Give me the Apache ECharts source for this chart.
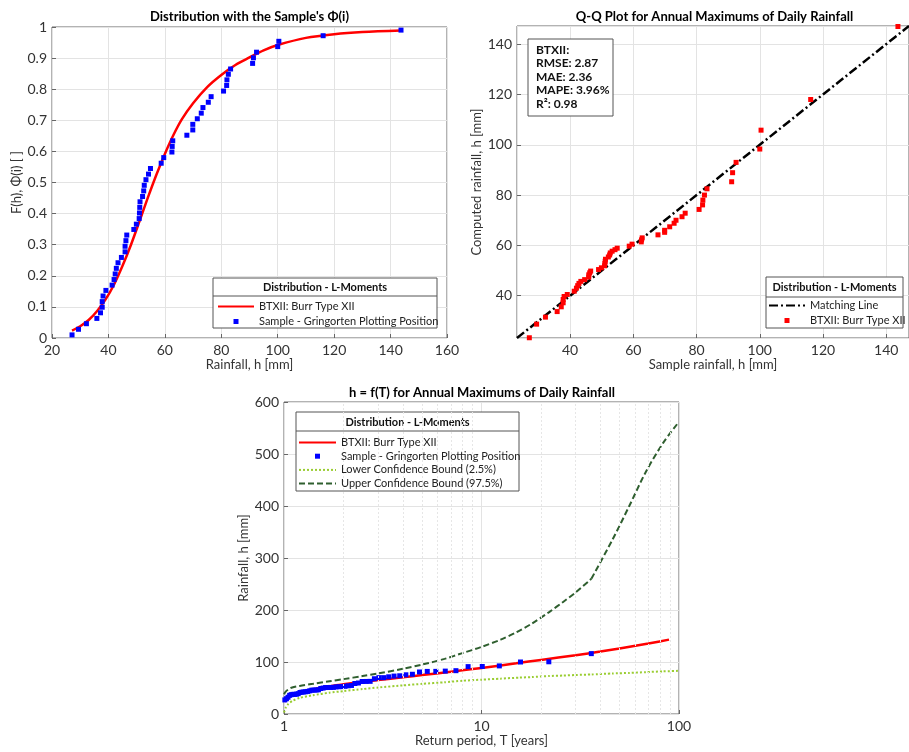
<!DOCTYPE html>
<html><head><meta charset="utf-8">
<script src="https://cdn.jsdelivr.net/npm/echarts@6/dist/echarts.min.js"></script>
<style>html,body{margin:0;padding:0;background:#fff}#c{width:909px;height:752px}</style>
</head><body><div id="c"></div>
<script>
// ---- data ----
const sampleH = [27.1, 29.4, 32.2, 35.9, 37.2, 37.8, 37.8, 38.1, 39.1, 41.3, 42.0, 42.4, 42.8, 43.4, 44.6, 45.9, 45.9, 46.2, 46.5, 49.0, 49.9, 50.9, 51.0, 51.1, 51.2, 52.1, 52.5, 52.7, 53.3, 54.2, 54.9, 58.7, 59.6, 62.5, 62.6, 62.8, 67.8, 69.9, 69.9, 71.5, 72.9, 73.5, 75.4, 76.4, 80.8, 81.9, 82.0, 82.5, 83.3, 91.1, 91.4, 92.5, 100.0, 100.4, 116.1, 143.7];
const plotPosF = [0.010, 0.028, 0.046, 0.063, 0.081, 0.099, 0.117, 0.135, 0.153, 0.170, 0.188, 0.206, 0.224, 0.242, 0.259, 0.277, 0.295, 0.313, 0.331, 0.349, 0.366, 0.384, 0.402, 0.420, 0.438, 0.455, 0.473, 0.491, 0.509, 0.527, 0.545, 0.562, 0.580, 0.598, 0.616, 0.634, 0.652, 0.669, 0.687, 0.705, 0.723, 0.741, 0.758, 0.776, 0.794, 0.812, 0.830, 0.848, 0.865, 0.883, 0.901, 0.919, 0.937, 0.954, 0.972, 0.990];
const returnT = [1.010, 1.029, 1.048, 1.068, 1.088, 1.110, 1.132, 1.156, 1.180, 1.205, 1.232, 1.259, 1.288, 1.319, 1.350, 1.384, 1.419, 1.455, 1.494, 1.535, 1.578, 1.624, 1.672, 1.724, 1.778, 1.836, 1.899, 1.965, 2.036, 2.113, 2.196, 2.285, 2.382, 2.488, 2.603, 2.730, 2.869, 3.024, 3.196, 3.389, 3.607, 3.854, 4.139, 4.468, 4.855, 5.314, 5.870, 6.556, 7.423, 8.555, 10.09, 12.31, 15.76, 21.92, 35.97, 100.2];
const computedH = [23.3, 28.7, 31.5, 33.7, 35.6, 37.2, 38.5, 39.7, 40.5, 41.8, 43.0, 44.0, 44.9, 45.7, 46.4, 47.4, 48.3, 49.1, 49.8, 50.4, 51.1, 51.9, 52.8, 53.7, 54.5, 55.4, 56.2, 57.0, 57.7, 58.3, 58.9, 59.7, 60.5, 61.4, 62.2, 63.0, 64.2, 65.2, 66.0, 67.4, 68.8, 70.0, 71.4, 72.8, 74.3, 76.1, 78.0, 80.0, 82.5, 85.3, 88.9, 93.0, 98.3, 105.8, 118.0, 147.0];

const cdfH = [27.1, 30, 33, 36, 39, 42, 45, 48, 51, 54, 57, 60, 63, 66, 70, 75, 80, 85, 90, 95, 100, 110, 120, 130, 143.7];
const cdfF = [0.024, 0.038, 0.058, 0.087, 0.124, 0.172, 0.232, 0.300, 0.375, 0.452, 0.525, 0.592, 0.652, 0.703, 0.755, 0.807, 0.846, 0.878, 0.902, 0.925, 0.942, 0.965, 0.977, 0.984, 0.989];

const quantT = [1.01, 1.03, 1.05, 1.1, 1.2, 1.3, 1.4, 1.6, 1.8, 2, 2.5, 3, 4, 5, 7, 10, 15, 20, 30, 40, 50, 70, 89];
const quantH = [23.4, 28.5, 31.7, 36.8, 41.6, 44.8, 47.6, 51.5, 54.6, 57.3, 61.8, 65.2, 70.5, 74.8, 81.4, 88.5, 97.5, 104, 113, 120, 126, 135.5, 143];

const lowerT = [1.0, 1.02, 1.05, 1.1, 1.2, 1.4, 1.7, 2, 2.5, 3, 4, 5, 6.5, 8, 10, 12.5, 15.6, 18, 22, 26, 30, 36, 46, 56, 68, 83, 100];
const lowerH = [3, 12, 19, 25, 31, 36, 41, 44, 48, 51, 55, 58, 61, 64, 66, 68, 70, 71, 73, 74, 75, 76, 78, 79, 80.5, 82, 83];
const upperT1 = [1.0, 1.02, 1.05, 1.1, 1.2, 1.4, 1.7, 2, 2.5, 3, 4, 5, 6.5, 8, 10, 12.5, 15, 18, 22, 26, 30, 36];
const upperH1 = [38, 43, 47, 51, 54, 58, 63, 67, 73, 78, 87, 95, 106, 117, 129, 143, 157, 174, 196, 216, 234, 260];
const upperT2 = [36, 46, 56, 68, 83, 100];
const upperH2 = [260, 335, 400, 466, 521, 562];

const matchLine = [23.2, 147.2];
const minorT = [2, 3, 4, 5, 6, 7, 8, 9, 20, 30, 40, 50, 60, 70, 80, 90];
const statLines = ['BTXII:', 'RMSE: 2.87', 'MAE: 2.36', 'MAPE: 3.96%', 'R²: 0.98'];
const chartTitles = ["Distribution with the Sample's Φ(i)", 'Q-Q Plot for Annual Maximums of Daily Rainfall', 'h = f(T) for Annual Maximums of Daily Rainfall'];
const legendTitle = 'Distribution - L-Moments';
const legendLabels = {
  cdf: 'BTXII: Burr Type XII', s1: 'Sample - Gringorten Plotting Position',
  match: 'Matching Line', qq: 'BTXII: Burr Type XII',
  quant: 'BTXII: Burr Type XII', s3: 'Sample - Gringorten Plotting Position',
  lower: 'Lower Confidence Bound (2.5%)', upper: 'Upper Confidence Bound (97.5%)'
};

// ---- chart ----
const zip = (a, b) => a.map((v, i) => [v, b[i]]);
const FONT = 'Lato';
const BOX = '#666';
const RED = '#ff0000', BLUE = '#0000ff';

function axis(gridIndex, o) {
  return Object.assign({
    type: 'value', gridIndex,
    axisLine: {show: false},
    axisTick: {show: true, inside: true, length: 4, lineStyle: {color: BOX}},
    axisLabel: {color: '#333', fontSize: 14, fontFamily: FONT, margin: 5},
    splitLine: {show: true, lineStyle: {color: '#e3e3e3', width: 1}},
    nameLocation: 'middle',
    nameTextStyle: {color: '#333', fontSize: 13, fontFamily: FONT}
  }, o);
}
const gridBase = {show: true, borderColor: BOX, borderWidth: 1, backgroundColor: '#fff', containLabel: false};

const legendText = {fontSize: 11, fontFamily: FONT, color: '#222'};
// small centred square icon for marker-only legend entries
const sq = (w, h, s) => 'path://M0,0M' + w + ',' + h + 'M' + ((w - s) / 2) + ',' + ((h - s) / 2) + 'h' + s + 'v' + s + 'h-' + s + 'Z';
function legend(left, top, gap, w, items) {
  return {left, top, orient: 'vertical', padding: 0, itemWidth: w, itemHeight: 6, itemGap: gap,
    selectedMode: false, textStyle: legendText, formatter: n => legendLabels[n], data: items, z: 6};
}
function legendBox(x, y, w, h, sepY) {
  return [
    {type: 'rect', z: 4, shape: {x, y, width: w, height: h}, style: {fill: '#fff', stroke: '#555', lineWidth: 1}},
    {type: 'line', z: 5, shape: {x1: x, y1: sepY, x2: x + w, y2: sepY}, style: {stroke: '#555', lineWidth: 1}},
    {type: 'text', z: 5, x: x + w / 2, y: (y + sepY) / 2 + 0.5, style: {text: legendTitle, align: 'center', verticalAlign: 'middle', font: 'bold 11px ' + FONT, fill: '#111'}}
  ];
}
function titleEl(text, x, y) {
  return {type: 'text', z: 5, x, y, style: {text, align: 'center', verticalAlign: 'middle', font: 'bold 13px ' + FONT, fill: '#000'}};
}
const lineSeries = (name, xi, data, color, width, type, extra) => Object.assign({
  name, type: 'line', xAxisIndex: xi, yAxisIndex: xi, data, showSymbol: false, symbol: 'none',
  lineStyle: {color, width, type}, itemStyle: {color}, z: 2}, extra || {});
const scatterSeries = (name, xi, data, color) => ({
  name, type: 'scatter', xAxisIndex: xi, yAxisIndex: xi, data, symbol: 'rect', symbolSize: 5,
  itemStyle: {color, opacity: 1}, z: 3, clip: true});

const option = {
  animation: false,
  backgroundColor: '#fff',
  grid: [
    Object.assign({left: 52, top: 27, width: 395, height: 311}, gridBase),
    Object.assign({left: 517, top: 26, width: 395, height: 312}, gridBase),
    Object.assign({left: 284, top: 402, width: 395, height: 312}, gridBase)
  ],
  xAxis: [
    axis(0, {min: 20, max: 160, interval: 20, name: 'Rainfall, h [mm]', nameGap: 18}),
    axis(1, {min: matchLine[0], max: matchLine[1], minInterval: 20, maxInterval: 20, name: 'Sample rainfall, h [mm]', nameGap: 18,
      axisLabel: {color: '#333', fontSize: 14, fontFamily: FONT, margin: 5, showMinLabel: false, showMaxLabel: false}}),
    axis(2, {type: 'log', logBase: 10, min: 1, max: 100, name: 'Return period, T [years]', nameGap: 18})
  ],
  yAxis: [
    axis(0, {min: 0, max: 1, interval: 0.1, name: 'F(h), Φ(i) [ ]', nameGap: 24}),
    axis(1, {min: matchLine[0], max: matchLine[1], minInterval: 20, maxInterval: 20, name: 'Computed rainfall, h [mm]', nameGap: 25,
      axisLabel: {color: '#333', fontSize: 14, fontFamily: FONT, margin: 5, showMinLabel: false, showMaxLabel: false}}),
    axis(2, {min: 0, max: 600, interval: 100, name: 'Rainfall, h [mm]', nameGap: 24})
  ],
  legend: [
    legend(217, 301, 4, 36, [{name: 'cdf', itemStyle: {opacity: 0}}, {name: 's1', icon: sq(36, 6, 5)}]),
    legend(768, 300, 4, 36, [{name: 'match', itemStyle: {opacity: 0}}, {name: 'qq', icon: sq(36, 6, 5)}]),
    legend(298, 437, 2.7, 37, [{name: 'quant', itemStyle: {opacity: 0}}, {name: 's3', icon: sq(37, 6, 5)},
      {name: 'lower', itemStyle: {opacity: 0}}, {name: 'upper', itemStyle: {opacity: 0}}])
  ],
  graphic: {elements: [
    titleEl(chartTitles[0], 249.5, 17),
    titleEl(chartTitles[1], 714.5, 17),
    titleEl(chartTitles[2], 482, 393),
    ...legendBox(213, 278, 224, 50, 296),
    ...legendBox(766, 277, 137, 51, 297),
    ...legendBox(296, 412, 223, 79, 431),
    {type: 'rect', z: 4, shape: {x: 528, y: 39, width: 85, height: 77}, style: {fill: '#fff', stroke: '#555', lineWidth: 1}},
    {type: 'text', z: 5, x: 536, y: 43, style: {text: statLines.join('\n'), font: 'bold 12px ' + FONT, lineHeight: 13.5, fill: '#111'}}
  ]},
  series: [
    lineSeries('cdf', 0, zip(cdfH, cdfF), RED, 2.5, 'solid', {smooth: 0.3}),
    scatterSeries('s1', 0, zip(sampleH, plotPosF), BLUE),
    lineSeries('match', 1, [[matchLine[0], matchLine[0]], [matchLine[1], matchLine[1]]], '#000', 2.5, [9, 3, 2, 3]),
    scatterSeries('qq', 1, zip(sampleH, computedH), RED),
    {name: 'minor', type: 'line', xAxisIndex: 2, yAxisIndex: 2, data: [], z: 1, silent: true,
      markLine: {silent: true, symbol: ['none', 'none'], label: {show: false}, animation: false,
        lineStyle: {color: '#e6e6e6', type: [2, 2], width: 1}, data: minorT.map(t => ({xAxis: t}))}},
    lineSeries('lower', 2, zip(lowerT, lowerH), '#9acd32', 2, [2, 2], {smooth: 0.2}),
    lineSeries('upper', 2, zip(upperT1, upperH1), '#2f5f2f', 2, [6, 3], {smooth: 0.3}),
    lineSeries('upper', 2, zip(upperT2, upperH2), '#2f5f2f', 2, [6, 3], {smooth: 0.3}),
    lineSeries('quant', 2, zip(quantT, quantH), RED, 2.5, 'solid', {smooth: 0.2}),
    scatterSeries('s3', 2, zip(returnT, sampleH), BLUE)
  ]
};
const chart = echarts.init(document.getElementById('c'), null, {renderer: 'canvas'});
chart.setOption(option);
</script>
</body></html>
